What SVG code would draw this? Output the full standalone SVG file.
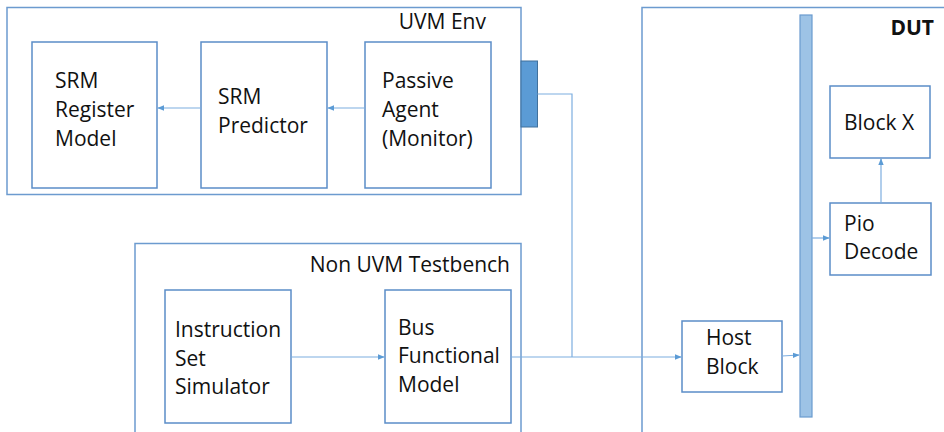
<svg xmlns="http://www.w3.org/2000/svg" width="944" height="432" viewBox="0 0 944 432">
<style>
.frame{fill:#fff;stroke:#6C9BCF;stroke-width:1.5}
.box{fill:#fff;stroke:#5B8DC8;stroke-width:1.5}
.t{font-family:"Open Sans","Liberation Sans",sans-serif;font-size:21px;fill:#111}
.tr{text-anchor:end}
.b{font-weight:bold}
.c{fill:none;stroke:#7DAEE0;stroke-width:1.2}
</style>
<defs>
<marker id="ah" viewBox="0 0 10 10" refX="9" refY="5" markerWidth="7" markerHeight="7" orient="auto" markerUnits="userSpaceOnUse">
<path d="M0,1 L10,5 L0,9 z" fill="#5B9BD5"/>
</marker>
</defs>
<rect width="944" height="432" fill="#fff"/>
<g id="uvm-env">
<rect class="frame" x="7" y="7.5" width="514" height="187"/>
<text class="t tr" x="486" y="29">UVM Env</text>
</g>
<g id="non-uvm-testbench">
<rect class="frame" x="135" y="243.5" width="386" height="200"/>
<text class="t tr" x="510" y="272">Non UVM Testbench</text>
</g>
<g id="dut">
<rect class="frame" x="642" y="7.5" width="310" height="440"/>
<text class="t tr b" x="934" y="35">DUT</text>
</g>
<g id="srm-register-model">
<rect class="box" x="32" y="42" width="125" height="146"/>
<text class="t" x="55"><tspan x="55" y="88">SRM</tspan><tspan x="55" y="117">Register</tspan><tspan x="55" y="146">Model</tspan></text>
</g>
<g id="srm-predictor">
<rect class="box" x="201" y="42" width="126" height="146"/>
<text class="t" x="218"><tspan x="218" y="104">SRM</tspan><tspan x="218" y="133">Predictor</tspan></text>
</g>
<g id="passive-agent">
<rect class="box" x="365" y="42" width="126" height="146"/>
<text class="t" x="382"><tspan x="382" y="88">Passive</tspan><tspan x="382" y="117">Agent</tspan><tspan x="382" y="146">(Monitor)</tspan></text>
</g>
<g id="port">
<rect x="521" y="61" width="16.5" height="66" fill="#5B9BD5" stroke="#41719C" stroke-width="1"/>
</g>
<g id="instruction-set-simulator">
<rect class="box" x="165" y="290" width="126" height="133"/>
<text class="t" x="175"><tspan x="175" y="337">Instruction</tspan><tspan x="175" y="366">Set</tspan><tspan x="175" y="394">Simulator</tspan></text>
</g>
<g id="bus-functional-model">
<rect class="box" x="385" y="290" width="126" height="133"/>
<text class="t" x="398"><tspan x="398" y="335">Bus</tspan><tspan x="398" y="363">Functional</tspan><tspan x="398" y="392">Model</tspan></text>
</g>
<g id="bus">
<rect x="800" y="15" width="12" height="402" fill="#9DC3E6" stroke="#6A9BCF" stroke-width="1.2"/>
</g>
<g id="block-x">
<rect class="box" x="830" y="86" width="100" height="72"/>
<text class="t" x="844" y="130">Block X</text>
</g>
<g id="pio-decode">
<rect class="box" x="830" y="203" width="101" height="72"/>
<text class="t" x="844"><tspan x="844" y="231">Pio</tspan><tspan x="844" y="259">Decode</tspan></text>
</g>
<g id="host-block">
<rect class="box" x="682" y="321" width="100" height="71"/>
<text class="t" x="706"><tspan x="706" y="345">Host</tspan><tspan x="706" y="374">Block</tspan></text>
</g>
<g id="connectors">
<line class="c" x1="365" y1="108" x2="328" y2="108" marker-end="url(#ah)"/>
<line class="c" x1="201" y1="108" x2="158" y2="108" marker-end="url(#ah)"/>
<line class="c" x1="291" y1="357" x2="384" y2="357" marker-end="url(#ah)"/>
<polyline class="c" points="537.5,94 572,94 572,357"/>
<line class="c" x1="511" y1="357" x2="681" y2="357" marker-end="url(#ah)"/>
<line class="c" x1="782" y1="356" x2="799" y2="355" marker-end="url(#ah)"/>
<line class="c" x1="812" y1="238" x2="829" y2="238" marker-end="url(#ah)"/>
<line class="c" x1="881" y1="203" x2="881" y2="159" marker-end="url(#ah)"/>
</g>
</svg>
